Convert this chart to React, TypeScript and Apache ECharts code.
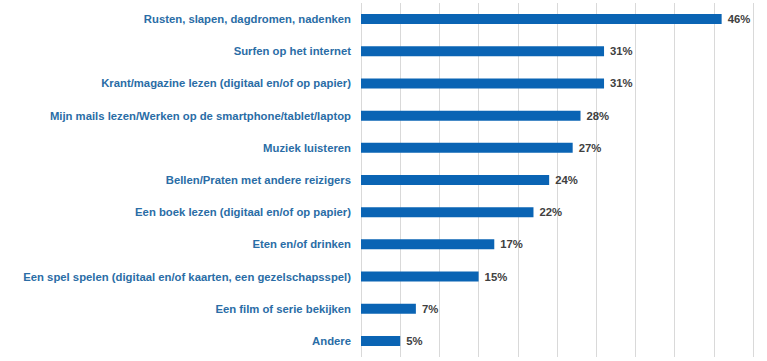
import React, { useEffect, useRef } from "react";
import * as echarts from "echarts";

const categories = [
  "Rusten, slapen, dagdromen, nadenken",
  "Surfen op het internet",
  "Krant/magazine lezen (digitaal en/of op papier)",
  "Mijn mails lezen/Werken op de smartphone/tablet/laptop",
  "Muziek luisteren",
  "Bellen/Praten met andere reizigers",
  "Een boek lezen (digitaal en/of op papier)",
  "Eten en/of drinken",
  "Een spel spelen (digitaal en/of kaarten, een gezelschapsspel)",
  "Een film of serie bekijken",
  "Andere",
];
const values = [46, 31, 31, 28, 27, 24, 22, 17, 15, 7, 5];

export default function App() {
  const ref = useRef<HTMLDivElement>(null);
  useEffect(() => {
    if (!ref.current) return;
    const chart = echarts.init(ref.current, null, { renderer: "svg" });
    chart.setOption({
      animation: false,
      backgroundColor: "#ffffff",
      grid: { left: 361, right: 14, top: 3, bottom: 4, containLabel: false },
      xAxis: {
        type: "value",
        min: 0,
        max: 50,
        interval: 5,
        axisLabel: { show: false },
        axisLine: { show: false },
        axisTick: { show: false },
        splitLine: { show: true, lineStyle: { color: "#d9d9d9", width: 1 } },
      },
      yAxis: {
        type: "category",
        data: categories,
        inverse: true,
        axisLine: { show: false },
        axisTick: { show: false },
        axisLabel: {
          margin: 10,
          color: "#2a6da6",
          fontFamily: "Liberation Sans, Arial, sans-serif",
          fontWeight: "bold",
          fontSize: 11.3,
        },
      },
      series: [
        {
          type: "bar",
          data: values,
          barWidth: 10,
          itemStyle: { color: "#0a64b4" },
          label: {
            show: true,
            position: "right",
            distance: 6,
            formatter: "{c}%",
            color: "#404040",
            fontFamily: "Liberation Sans, Arial, sans-serif",
            fontWeight: "bold",
            fontSize: 11.3,
          },
        },
      ],
    });
    return () => chart.dispose();
  }, []);
  return (
    <div
      ref={ref}
      style={{ position: "fixed", left: 0, top: 0, width: 767, height: 361 }}
    />
  );
}
